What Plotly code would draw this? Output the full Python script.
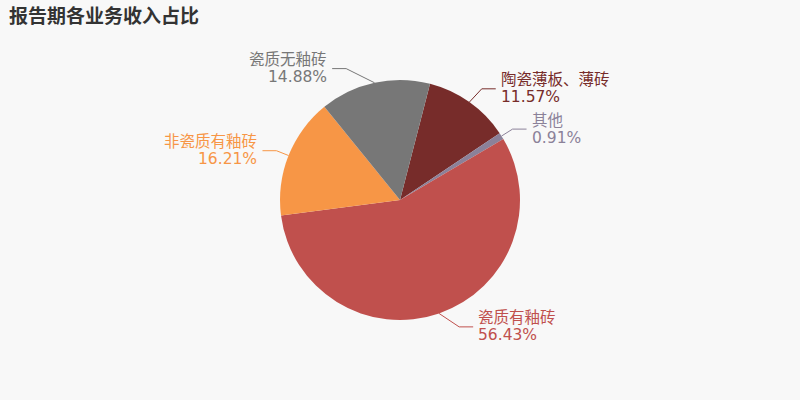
import math
import plotly.graph_objects as go

# ---- data ----
labels = ["陶瓷薄板、薄砖", "其他", "瓷质有釉砖", "非瓷质有釉砖", "瓷质无釉砖"]
values = [11.57, 0.91, 56.43, 16.21, 14.88]
colors = ["#772c2a", "#8b8199", "#c0504d", "#f79646", "#777777"]
title_text = "报告期各业务收入占比"

# ---- layout constants (pixels) ----
W, H = 800, 400
CX, CY, R = 400, 200, 120
ROTATION = 14.5
# leader-line tweaks per slice (angle offset deg, elbow radius px)
leader_adj = [(1, 138), (0, 133), (-6, 140), (0, 133), (-10, 142)]
LEN2 = 14
FONT = "DejaVu Sans, Noto Sans CJK SC, sans-serif"
FS = 15.5

fig = go.Figure(go.Pie(
    labels=labels, values=values, sort=False, direction="clockwise",
    rotation=ROTATION, textinfo="none", hoverinfo="label+percent",
    marker=dict(colors=colors, line=dict(width=0)),
    domain=dict(x=[(CX - R) / W, (CX + R) / W], y=[1 - (CY + R) / H, 1 - (CY - R) / H]),
    showlegend=False,
))

def px(x, y):
    return x / W, 1 - y / H

total = sum(values)
shapes, annots = [], []
cum = ROTATION
for lab, v, c, (da, rr) in zip(labels, values, colors, leader_adj):
    span = v / total * 360
    mid = cum + span / 2
    cum += span
    a = math.radians(mid)
    x0, y0 = CX + R * math.sin(a), CY - R * math.cos(a)
    a2 = math.radians(mid + da)
    x1, y1 = CX + rr * math.sin(a2), CY - rr * math.cos(a2)
    right = math.sin(a2) >= 0
    x2 = x1 + (LEN2 if right else -LEN2)
    p0, p1, p2 = px(x0, y0), px(x1, y1), px(x2, y1)
    shapes.append(dict(type="path", xref="paper", yref="paper",
                       path=f"M{p0[0]},{p0[1]} L{p1[0]},{p1[1]} L{p2[0]},{p2[1]}",
                       line=dict(color=c, width=1)))
    tx = x2 + (3 if right else -3)
    pct = f"{v:.2f}%"
    for txt, dy in ((lab, -8.5), (pct, 8.5)):
        ax, ay = px(tx, y1 + dy)
        annots.append(dict(x=ax, y=ay, xref="paper", yref="paper", text=txt,
                           showarrow=False, xanchor="left" if right else "right",
                           yanchor="middle", align="left" if right else "right",
                           font=dict(family=FONT, size=FS, color=c)))

annots.append(dict(x=7 / W, y=1 - 15 / H, xref="paper", yref="paper",
                   text=f"<b>{title_text}</b>", showarrow=False,
                   xanchor="left", yanchor="middle",
                   font=dict(family="Noto Sans CJK SC, sans-serif", size=19, color="#333333")))

fig.update_layout(width=W, height=H, margin=dict(l=0, r=0, t=0, b=0),
                  paper_bgcolor="#f8f8f8", plot_bgcolor="#f8f8f8",
                  shapes=shapes, annotations=annots)
fig.write_html("out.html", config={"displayModeBar": False},
               post_script="document.body.style.margin='0';document.body.style.background='#f8f8f8';")
